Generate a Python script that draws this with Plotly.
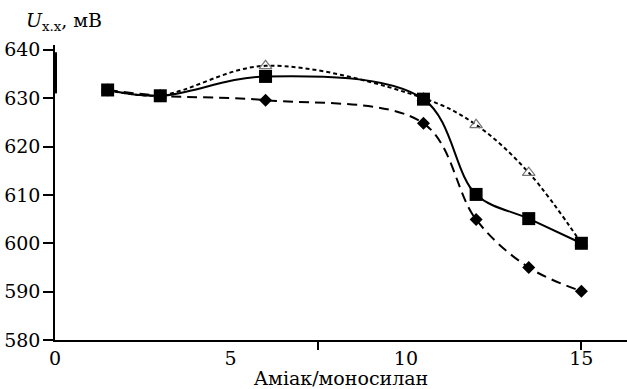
import plotly.graph_objects as go

x_vals = [1.5, 3, 6, 10.5, 12, 13.5, 15]
sq_vals = [631.7, 630.5, 634.5, 629.8, 610.1, 605.1, 600.0]
tri_vals = [631.7, 630.6, 636.7, 630.0, 624.5, 614.6, 600.0]
dia_vals = [631.7, 630.5, 629.6, 624.8, 604.9, 595.0, 590.1]

x_ticks = [0, 5, 10, 15]
x_tick_labels = ["0", "5", "10", "15"]
x_marks = [7.5, 15]
y_ticks = [580, 590, 600, 610, 620, 630, 640]

FONT = "DejaVu Serif"

fig = go.Figure()
fig.add_trace(go.Scatter(
    x=x_vals, y=dia_vals, mode="lines+markers",
    line=dict(color="black", width=2, dash="10px,6px", shape="spline", smoothing=1),
    marker=dict(symbol="diamond", size=10, color="black"),
))
fig.add_trace(go.Scatter(
    x=x_vals, y=tri_vals, mode="lines+markers",
    line=dict(color="black", width=2, dash="4px,3px", shape="spline", smoothing=1),
    marker=dict(symbol="triangle-up-open", size=11, color="#777777", line=dict(width=1.2)),
))
fig.add_trace(go.Scatter(
    x=x_vals, y=sq_vals, mode="lines+markers",
    line=dict(color="black", width=2, shape="spline", smoothing=1),
    marker=dict(symbol="square", size=13, color="black"),
))
fig.add_trace(go.Scatter(x=[None], y=[None], xaxis="x2", yaxis="y",
                         mode="markers", hoverinfo="skip"))

fig.update_layout(
    width=627, height=389,
    margin=dict(l=55, r=0, t=45, b=49),
    paper_bgcolor="white", plot_bgcolor="white",
    showlegend=False,
    font=dict(family=FONT, size=19, color="black"),
    xaxis=dict(
        range=[0, 16.3], tickvals=x_ticks, ticktext=x_tick_labels,
        ticks="", showgrid=False, zeroline=False,
        showline=True, linecolor="black", linewidth=1.5,
        title=dict(text="Аміак/моносилан", standoff=0, font=dict(family=FONT, size=19)),
        tickfont=dict(family=FONT, size=19),
        ticklabelstandoff=0,
    ),
    xaxis2=dict(
        range=[0, 16.3], overlaying="x", anchor="y", side="bottom",
        tickvals=x_marks, ticktext=["", ""], showticklabels=False, ticks="outside",
        ticklen=9, tickwidth=1.5, tickcolor="black",
        showgrid=False, zeroline=False, showline=False,
    ),
    yaxis=dict(
        range=[580, 641], tickvals=y_ticks,
        ticks="outside", ticklen=10, tickwidth=1.5, tickcolor="black",
        showgrid=False, zeroline=False,
        showline=True, linecolor="black", linewidth=1.5,
        tickfont=dict(family=FONT, size=19),
        ticklabelstandoff=-1,
    ),
    shapes=[dict(type="line", xref="paper", yref="y", x0=0, x1=0, y0=631, y1=639.5,
                 line=dict(color="black", width=4))],
    annotations=[dict(
        text="<i>U</i><sub>x.x</sub>, мВ", xref="paper", yref="paper",
        x=-0.055, y=1.0, yshift=24, xanchor="left", yanchor="middle",
        showarrow=False, font=dict(family=FONT, size=19),
    )],
)

fig.write_html("out.html")
